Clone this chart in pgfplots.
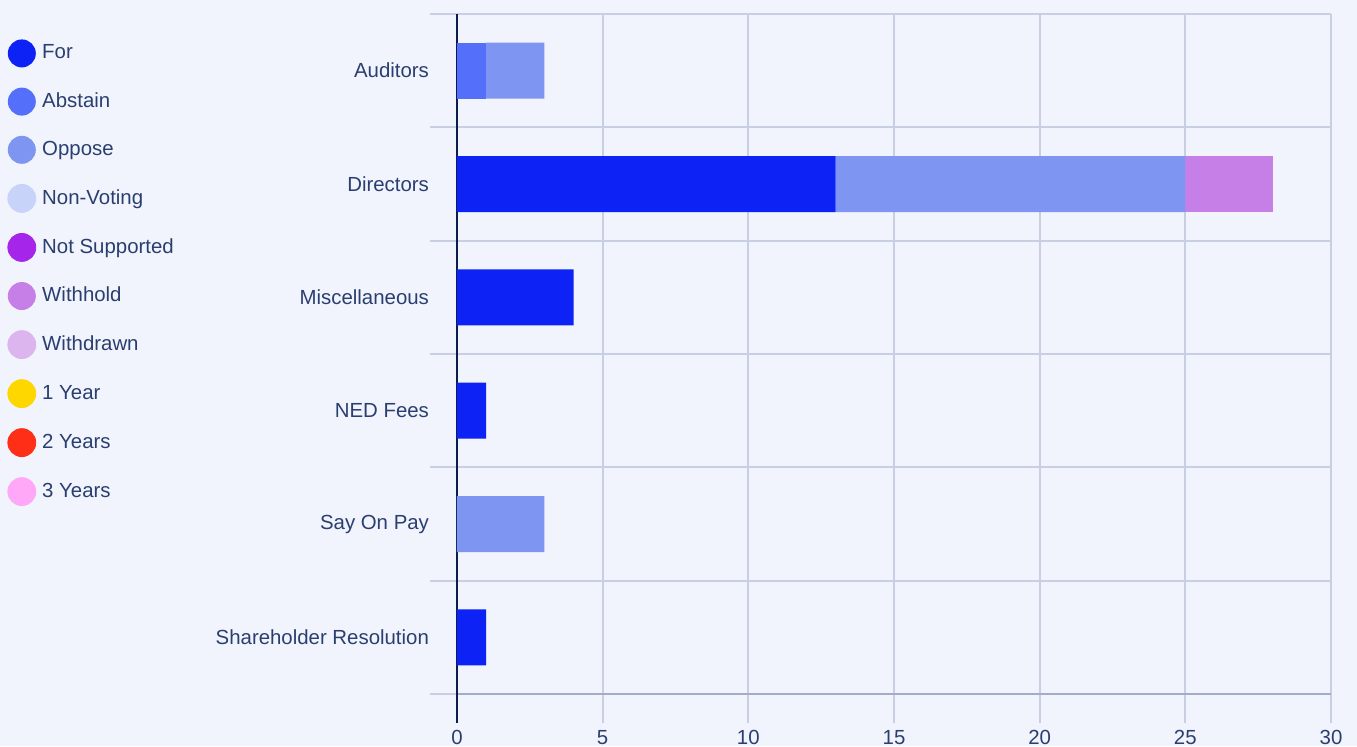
\documentclass[border=0pt]{standalone}
\usepackage{fontspec}
\setmainfont{Liberation Sans}
\usepackage{pgfplots}
\usepackage{pgfplotstable}
\pgfplotsset{compat=1.18}
\usetikzlibrary{backgrounds,calc}

\definecolor{bgc}{HTML}{F1F4FD}
\definecolor{txt}{HTML}{2A3F6F}
\definecolor{gridc}{HTML}{C9CFE3}
\definecolor{axc}{HTML}{A3ACC8}
\definecolor{zeroc}{HTML}{0B1D4F}
\definecolor{cfor}{HTML}{0D22F5}
\definecolor{cabs}{HTML}{5470FA}
\definecolor{copp}{HTML}{7E96F2}
\definecolor{cnv}{HTML}{C8D3FA}
\definecolor{cns}{HTML}{A625EA}
\definecolor{cwh}{HTML}{C77FE8}
\definecolor{cwd}{HTML}{DDB5EE}
\definecolor{cya}{HTML}{FFD700}
\definecolor{cyb}{HTML}{FF2E17}
\definecolor{cyc}{HTML}{FFA8F8}

\pgfplotsset{legdot/.style={legend image code/.code={\fill[#1] (7pt,0pt) circle (7pt);}}}

% y: 0 = Shareholder Resolution ... 5 = Auditors
\pgfplotstableread{
y For Abstain Oppose Withhold
0 1  0 0  0
1 0  0 3  0
2 1  0 0  0
3 4  0 0  0
4 13 0 12 3
5 0  1 2  0
}\votes

\begin{document}
\begin{tikzpicture}
\begin{axis}[
    name=ax,
    scale only axis, width=437pt, height=340pt,
    clip=false,
    xbar stacked, bar width=28pt,
    xmin=0, xmax=30, ymin=-0.5, ymax=5.5,
    xtick={0,5,...,30}, ytick={0,...,5},
    yticklabels={Shareholder Resolution, Say On Pay, NED Fees, Miscellaneous, Directors, Auditors},
    minor ytick={-0.5,0.5,...,5.5},
    axis x line*=bottom, axis y line*=left,
    x axis line style={draw=axc, line width=1pt},
    y axis line style={draw=none},
    tick align=outside, major tick length=14.5pt, minor tick length=13.5pt,
    every major y tick/.style={draw=none},
    every major x tick/.style={draw=gridc, line width=1pt},
    every minor y tick/.style={draw=gridc, line width=1pt},
    xmajorgrids, yminorgrids,
    grid style={draw=gridc, line width=1pt},
    tick label style={font=\fontsize{10.2}{12}\selectfont, text=txt},
    yticklabel style={xshift=4pt},
    /pgf/number format/assume math mode=true,
    legend style={at={(-0.5217,0.9691)}, anchor=north west, draw=none, fill=none,
                  font=\fontsize{10.2}{12}\selectfont, text=txt,
                  nodes={inner sep=0pt}, row sep=10.1pt, column sep=3pt,
                  cells={anchor=west}},
  ]
\addplot[fill=cfor, draw=none, legdot=cfor] table[x=For, y=y] {\votes};
\addlegendentry{For}
\addplot[fill=cabs, draw=none, legdot=cabs] table[x=Abstain, y=y] {\votes};
\addlegendentry{Abstain}
\addplot[fill=copp, draw=none, legdot=copp] table[x=Oppose, y=y] {\votes};
\addlegendentry{Oppose}
\addlegendimage{legdot=cnv}
\addlegendentry{Non-Voting}
\addlegendimage{legdot=cns}
\addlegendentry{Not Supported}
\addplot[fill=cwh, draw=none, legdot=cwh] table[x=Withhold, y=y] {\votes};
\addlegendentry{Withhold}
\addlegendimage{legdot=cwd}
\addlegendentry{Withdrawn}
\addlegendimage{legdot=cya}
\addlegendentry{1 Year}
\addlegendimage{legdot=cyb}
\addlegendentry{2 Years}
\addlegendimage{legdot=cyc}
\addlegendentry{3 Years}
% zero line on top of the bars, running down through the tick
\draw[draw=zeroc, line width=1.3pt] ([yshift=-14.5pt]axis cs:0,-0.5) -- (axis cs:0,5.5);
\end{axis}
\begin{scope}[on background layer]
\fill[bgc] ($(ax.south west)+(-228.5pt,-26pt)$) rectangle ($(ax.north east)+(13pt,7pt)$);
\end{scope}
\pgfresetboundingbox
\path ($(ax.south west)+(-228.5pt,-26pt)$) rectangle ($(ax.north east)+(13pt,7pt)$);
\end{tikzpicture}
\end{document}
